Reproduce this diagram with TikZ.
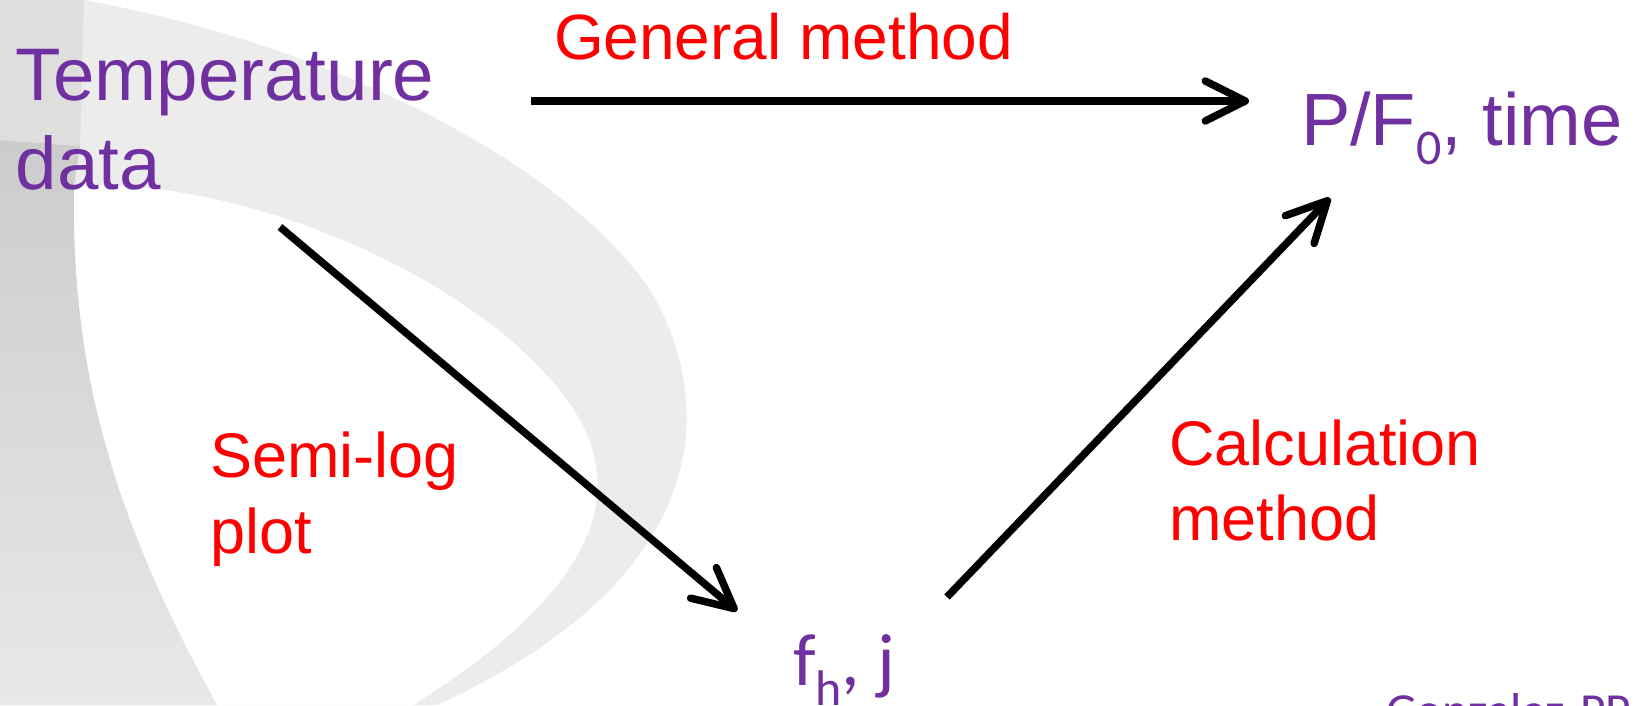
\documentclass[tikz,border=0pt]{standalone}
\usepackage{fontspec}
\setmainfont{Liberation Sans}
\newfontfamily\calfont{Carlito}
\usetikzlibrary{arrows.meta}
\definecolor{ppurple}{HTML}{7030A0}
\definecolor{rred}{HTML}{FF0000}
\definecolor{bandgray}{HTML}{ECECEC}
\begin{document}
\begin{tikzpicture}[x=1pt,y=-1pt,
  lbl/.style={inner sep=0pt, outer sep=0pt, anchor=base west},
  purp/.style={text=ppurple, font=\fontsize{74.5}{89}\selectfont},
  redl/.style={text=rred, font=\fontsize{63}{76}\selectfont},
  arr/.style={line width=7.5pt, -{Straight Barb[length=40pt,width=40pt,round]}}]
\useasboundingbox (0,0) rectangle (1636,705);
\clip (0,0) rectangle (1636,705);
\fill[white] (0,0) rectangle (1636,705);
% background swoosh
\fill[bandgray] (0,0) -- (84,0) .. controls (330,45) and (560,160) .. (650,290)
  .. controls (710,390) and (730,570) .. (437,705) -- (0,705) -- cycle;
\fill[white] (74,185) .. controls (250,178) and (480,280) .. (567,400)
  .. controls (640,500) and (580,600) .. (413,705) -- (217,705)
  .. controls (120,530) and (70,380) .. (74,185) -- cycle;
\shade[top color=black!20, bottom color=black!9] (0,140) -- (80,146) -- (74,185)
  .. controls (70,380) and (120,530) .. (217,705) -- (0,705) -- cycle;
\fill[black!13] (0,0) -- (84,0) -- (80,146) -- (0,140) -- cycle;
% labels
\node[lbl,purp] (temp) at (16,100) {Temperature};
\node[lbl,purp] (data) at (16,189) {data};
\node[lbl,text=rred,font=\fontsize{64}{76}\selectfont] (gen) at (554,59) {General method};
\node[lbl,purp,font=\fontsize{74}{89}\selectfont] (pf) at (1301,145) {P/F\raisebox{-19pt}{\calfont\fontsize{50}{50}\selectfont 0}, time};
\node[lbl,redl] (semi) at (210,477) {Semi-log};
\node[lbl,redl] (plot) at (210,553) {plot};
\node[lbl,redl] (calc) at (1169,465) {Calculation};
\node[lbl,redl] (meth) at (1169,540) {method};
\node[lbl,text=ppurple,font=\calfont\fontsize{74}{89}\selectfont] (fh) at (793,685) {f\raisebox{-20pt}{\fontsize{50}{50}\selectfont h}, j};
\node[lbl,text=ppurple,font=\calfont\fontsize{49}{59}\selectfont] (cite) at (1386,727) {Gonzalez-PP};
% connectors
\draw[arr] ([shift={(515,1)}]temp.base west) -- ([shift={(-52,-44)}]pf.base west);
\draw[arr] ([shift={(264,38)}]data.base west) -- ([shift={(-56,-74)}]fh.base west);
\draw[arr] ([shift={(154,-88)}]fh.base west) -- ([shift={(29,53)}]pf.base west);
\end{tikzpicture}
\end{document}
